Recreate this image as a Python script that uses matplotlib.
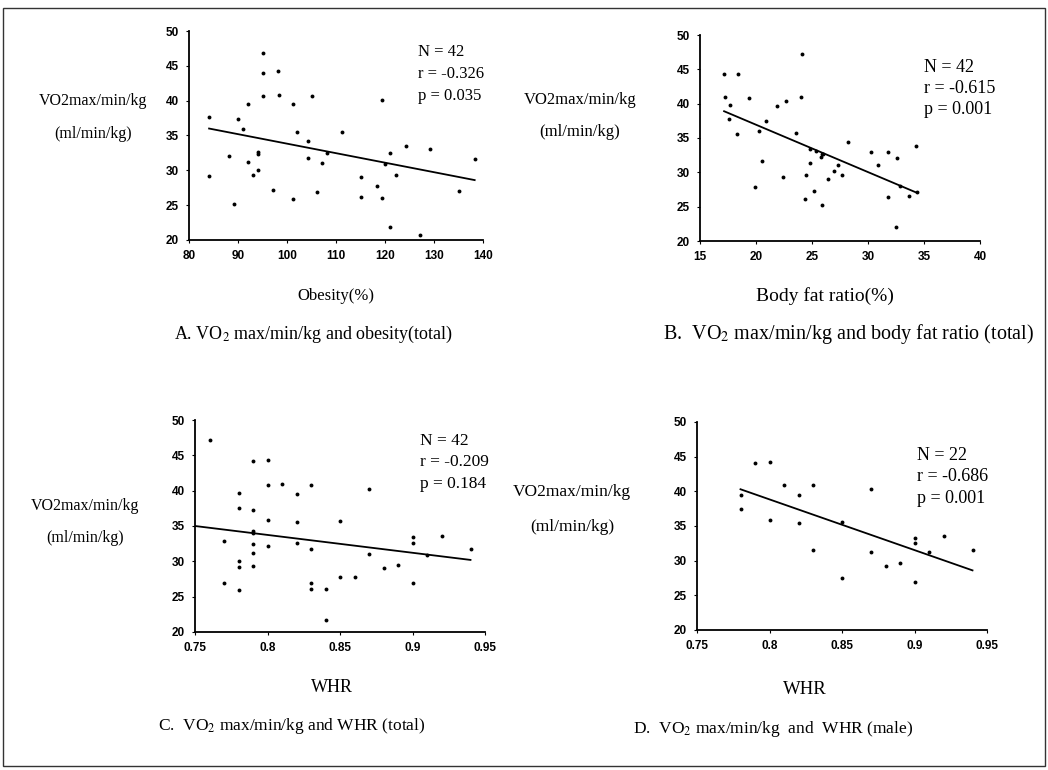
import matplotlib
matplotlib.use("Agg")
import matplotlib.pyplot as plt
from matplotlib.patches import Rectangle

plt.rcParams['mathtext.fontset'] = 'stix'

W, H = 1048, 770

# --- Panel A: obesity vs VO2max (total) ---
obesity = [84.1, 84.1, 88.2, 89.1, 90.1, 91.0, 92.0, 92.0, 93.1, 94.1, 94.1,
           94.1, 95.2, 95.2, 95.2, 97.1, 98.2, 98.3, 101.2, 101.2, 102.1,
           104.2, 104.2, 105.2, 106.2, 107.1, 108.2, 111.2, 115.2, 115.2,
           118.3, 119.3, 119.3, 120.1, 121.1, 121.1, 122.2, 124.2, 127.2,
           129.2, 135.2, 138.3]
vo2_a = [37.6, 29.2, 32.1, 25.1, 37.3, 35.9, 39.5, 31.2, 29.4, 32.6, 32.3,
         30.0, 46.9, 44.0, 40.7, 27.2, 44.2, 40.8, 39.5, 25.9, 35.5, 34.2,
         31.7, 40.7, 26.9, 31.0, 32.5, 35.5, 29.0, 26.2, 27.8, 40.1, 26.1,
         30.9, 32.5, 21.8, 29.4, 33.5, 20.7, 33.1, 27.0, 31.6]
trend_a_x = [84.1, 138.3]
trend_a_y = [36.0, 28.6]

# --- Panel B: body fat ratio vs VO2max (total) ---
body_fat = [17.15, 17.2, 17.7, 17.6, 18.3, 18.4, 19.4, 19.9, 20.3, 20.5,
            20.9, 21.9, 22.4, 22.7, 23.6, 24.0, 24.1, 24.5, 24.4, 24.8, 24.8,
            25.2, 25.4, 25.8, 25.9, 25.9, 26.0, 26.4, 27.0, 27.3, 27.7, 28.2,
            30.3, 30.9, 31.8, 31.8, 32.5, 32.6, 32.9, 33.7, 34.3, 34.4]
vo2_b = [44.3, 40.9, 39.8, 37.7, 35.6, 44.3, 40.8, 27.9, 36.0, 31.7, 37.5,
         39.7, 29.3, 40.4, 35.8, 40.9, 47.2, 29.6, 26.1, 33.4, 31.3, 27.3,
         33.1, 32.3, 32.7, 25.2, 32.6, 29.1, 30.2, 31.1, 29.6, 34.4, 32.9,
         31.1, 32.9, 26.4, 22.0, 32.1, 28.0, 26.5, 33.9, 27.2]
trend_b_x = [17.15, 34.4]
trend_b_y = [38.9, 27.0]

# --- Panel C: WHR vs VO2max (total) ---
whr_c = [0.76, 0.77, 0.77, 0.78, 0.78, 0.78, 0.78, 0.78, 0.79, 0.79, 0.79,
         0.79, 0.79, 0.79, 0.79, 0.80, 0.80, 0.80, 0.80, 0.81, 0.82, 0.82,
         0.82, 0.83, 0.83, 0.83, 0.83, 0.84, 0.84, 0.85, 0.85, 0.86, 0.87,
         0.87, 0.88, 0.89, 0.90, 0.90, 0.90, 0.91, 0.92, 0.94]
vo2_c = [47.1, 32.9, 27.0, 39.7, 37.6, 30.1, 29.2, 25.9, 44.2, 37.3, 34.3,
         34.0, 32.4, 31.2, 29.4, 44.3, 40.8, 35.9, 32.1, 40.9, 39.5, 35.6,
         32.6, 40.8, 31.7, 27.0, 26.1, 26.1, 21.7, 35.7, 27.8, 27.8, 40.2,
         31.1, 29.1, 29.5, 33.4, 32.6, 27.0, 30.9, 33.6, 31.8]
trend_c_x = [0.75, 0.94]
trend_c_y = [35.0, 30.2]

# --- Panel D: WHR vs VO2max (male) ---
whr_d = [0.78, 0.78, 0.79, 0.80, 0.80, 0.81, 0.82, 0.82, 0.83, 0.83, 0.85,
         0.85, 0.87, 0.87, 0.88, 0.89, 0.90, 0.90, 0.90, 0.91, 0.92, 0.94]
vo2_d = [39.5, 37.5, 44.1, 44.3, 35.8, 40.9, 39.5, 35.4, 40.9, 31.5, 35.6,
         27.5, 40.3, 31.2, 29.2, 29.7, 33.2, 32.5, 26.9, 31.2, 33.5, 31.6]
trend_d_x = [0.78, 0.94]
trend_d_y = [40.3, 28.6]

stats_a = ["N = 42", "r = -0.326", "p = 0.035"]
stats_b = ["N = 42", "r = -0.615", "p = 0.001"]
stats_c = ["N = 42", "r = -0.209", "p = 0.184"]
stats_d = ["N = 22", "r = -0.686", "p = 0.001"]

xticks_obesity = [80, 90, 100, 110, 120, 130, 140]
xticks_fat = [15, 20, 25, 30, 35, 40]
xticks_whr = [0.75, 0.8, 0.85, 0.9, 0.95]
xticklabels_whr = ["0.75", "0.8", "0.85", "0.9", "0.95"]
yticks = [20, 25, 30, 35, 40, 45, 50]

SERIF = ['Liberation Serif', 'DejaVu Serif']
SANS = ['Liberation Sans', 'DejaVu Sans']


def fx(x):
    return x / W


def fy(y):
    return 1 - y / H


def make_axes(fig, left, right, top, bottom):
    ax = fig.add_axes([fx(left), fy(bottom), (right - left) / W, (bottom - top) / H])
    ax.spines['top'].set_visible(False)
    ax.spines['right'].set_visible(False)
    for s in ('left', 'bottom'):
        ax.spines[s].set_linewidth(1.3)
    ax.tick_params(length=2.5, width=0.8, labelsize=8.5, pad=5)
    ax.set_yticks(yticks)
    ax.set_ylim(20, 50)
    return ax


def style_ticklabels(ax):
    for lab in ax.get_yticklabels() + ax.get_xticklabels():
        lab.set_fontfamily(SANS)
        lab.set_fontweight('bold')


def draw_panel(ax, x, y, tx, ty, stats, sx, sy, size, step):
    ax.plot(x, y, 'o', color='black', markersize=2.8, markeredgewidth=0)
    ax.plot(tx, ty, '-', color='black', linewidth=1.3)
    for i, s in enumerate(stats):
        ax.text(sx, sy - i * step, s, transform=ax.transAxes, fontsize=size,
                family=SERIF, va='center', ha='left')


fig = plt.figure(figsize=(W / 100, H / 100), dpi=100)

# Panel A
ax = make_axes(fig, 189, 483, 31, 240)
ax.set_xlim(80, 140)
ax.set_xticks(xticks_obesity)
style_ticklabels(ax)
draw_panel(ax, obesity, vo2_a, trend_a_x, trend_a_y, stats_a, 0.78, 0.9, 12, 0.105)

# Panel B
ax = make_axes(fig, 700, 980, 35, 241)
ax.set_xlim(15, 40)
ax.set_xticks(xticks_fat)
style_ticklabels(ax)
draw_panel(ax, body_fat, vo2_b, trend_b_x, trend_b_y, stats_b, 0.80, 0.84, 13, 0.102)

# Panel C
ax = make_axes(fig, 195, 485, 420, 632)
ax.set_xlim(0.75, 0.95)
ax.set_xticks(xticks_whr)
ax.set_xticklabels(xticklabels_whr)
style_ticklabels(ax)
draw_panel(ax, whr_c, vo2_c, trend_c_x, trend_c_y, stats_c, 0.775, 0.9, 12.5, 0.1)

# Panel D
ax = make_axes(fig, 697, 987, 422, 630)
ax.set_xlim(0.75, 0.95)
ax.set_xticks(xticks_whr)
ax.set_xticklabels(xticklabels_whr)
style_ticklabels(ax)
draw_panel(ax, whr_d, vo2_d, trend_d_x, trend_d_y, stats_d, 0.76, 0.84, 13, 0.103)

# y-axis labels
ylabels = [(93, 101, 134, 11.5), (580, 100, 132, 12), (85, 506, 538, 11.5), (572, 492, 527, 12.5)]
for x, y1, y2, size in ylabels:
    fig.text(fx(x), fy(y1), "VO2max/min/kg", fontsize=size, family=SERIF, ha='center', va='center')
    fig.text(fx(x), fy(y2), "(ml/min/kg)", fontsize=size, family=SERIF, ha='center', va='center')

# x-axis labels
fig.text(fx(336), fy(296), "Obesity(%)", fontsize=12, family=SERIF, ha='center', va='center')
fig.text(fx(825), fy(296), "Body fat ratio(%)", fontsize=14, family=SERIF, ha='center', va='center')
fig.text(fx(332), fy(688), "WHR", fontsize=13, family=SERIF, ha='center', va='center')
fig.text(fx(805), fy(690), "WHR", fontsize=13.5, family=SERIF, ha='center', va='center')

# captions
fig.text(fx(314), fy(334), r"A. VO$_2$ max/min/kg and obesity(total)", fontsize=13, family=SERIF, ha='center', va='center')
fig.text(fx(848), fy(334), r"B.  VO$_2$ max/min/kg and body fat ratio (total)", fontsize=14.5, family=SERIF, ha='center', va='center')
fig.text(fx(292), fy(726), r"C.  VO$_2$ max/min/kg and WHR (total)", fontsize=12.5, family=SERIF, ha='center', va='center')
fig.text(fx(773), fy(729), r"D.  VO$_2$ max/min/kg  and  WHR (male)", fontsize=12.5, family=SERIF, ha='center', va='center')

# outer frame
fig.patches.append(Rectangle((fx(3), fy(766)), (1045 - 3) / W, (766 - 8) / H,
                             transform=fig.transFigure, fill=False,
                             edgecolor='#333333', linewidth=1.0))

fig.savefig("out.png", dpi=100)
